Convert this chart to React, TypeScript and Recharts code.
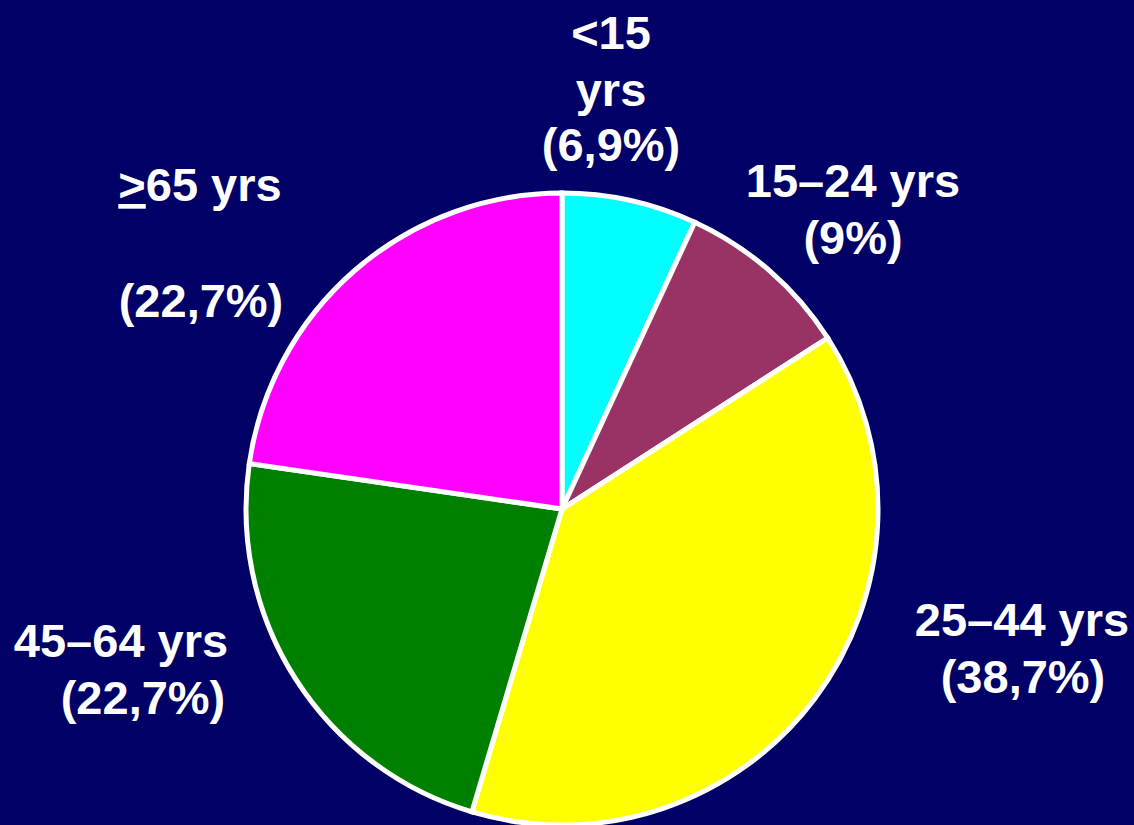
import React from "react"
import { PieChart, Pie, Cell } from "recharts"

const groups = ["<15", "15–24", "25–44", "45–64", ">65"]
const shares = [6.9, 9, 38.7, 22.7, 22.7]
const shareLabels = ["6,9%", "9%", "38,7%", "22,7%", "22,7%"]
const colors = ["#00FFFF", "#993366", "#FFFF00", "#008000", "#FF00FF"]

const data = groups.map((g, i) => ({ name: g, value: shares[i] }))

// label lines: [text, dx from pie centre, dy (baseline) from pie centre]
const labelLayout: [string, number, number][][] = [
    [["<15", 49, -460], ["yrs", 49, -403], ["(" + shareLabels[0] + ")", 49, -348]],
    [["15–24 yrs", 291, -312], ["(" + shareLabels[1] + ")", 291, -255]],
    [["25–44 yrs", 460, 127], ["(" + shareLabels[2] + ")", 461, 184]],
    [["45–64 yrs", -441, 148], ["(" + shareLabels[3] + ")", -419, 205]],
    [["65 yrs", -362, -308], ["(" + shareLabels[4] + ")", -361, -192]],
]

const FONT = "Arial, 'Liberation Sans', Helvetica, sans-serif"

function renderLabel(props: any) {
    const { cx, cy, index } = props
    const lines = labelLayout[index]
    return (
        <g key={`lbl-${index}`}>
            {lines.map(([t, dx, dy], j) => (
                <text
                    key={j}
                    x={cx + dx}
                    y={cy + dy}
                    textAnchor="middle"
                    fill="#FFFFFF"
                    fontFamily={FONT}
                    fontWeight="bold"
                    fontSize={47}
                >
                    {index === 4 && j === 0 ? (
                        <>
                            <tspan textDecoration="underline">&gt;</tspan>
                            <tspan>{t}</tspan>
                        </>
                    ) : (
                        t
                    )}
                </text>
            ))}
        </g>
    )
}

export default function App() {
    return (
        <div style={{ position: "absolute", left: 0, top: 0, width: 1134, height: 825, background: "#000066" }}>
            <PieChart width={1134} height={825}>
                <Pie
                    data={data}
                    dataKey="value"
                    nameKey="name"
                    cx={557}
                    cy={504}
                    outerRadius={316}
                    startAngle={90}
                    endAngle={-270}
                    stroke="#FFFFFF"
                    strokeWidth={5}
                    label={renderLabel}
                    labelLine={false}
                    isAnimationActive={false}
                >
                    {data.map((d, i) => (
                        <Cell key={d.name} fill={colors[i]} />
                    ))}
                </Pie>
            </PieChart>
        </div>
    )
}
